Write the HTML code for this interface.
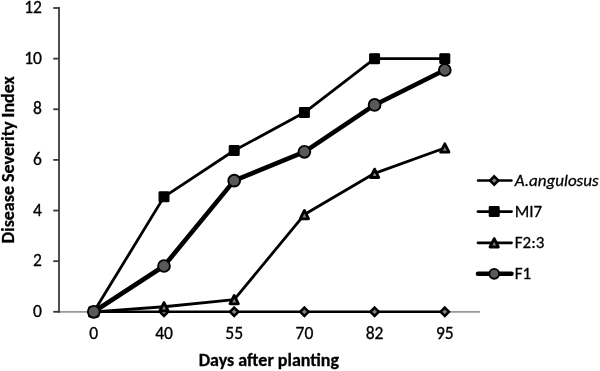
<!DOCTYPE html><html><head><meta charset="utf-8"><style>html,body{margin:0;padding:0;background:#fff;width:600px;height:371px;overflow:hidden}svg{display:block}text{font-family:Carlito, 'Liberation Sans', sans-serif;fill:#000;stroke:#000;stroke-width:0.3px}</style></head><body>
<svg width="600" height="371" viewBox="0 0 600 371">
<line x1="59" y1="311.80" x2="480" y2="311.80" stroke="#9a9a9a" stroke-width="1.8"/>
<line x1="59" y1="7.1" x2="59" y2="312.70" stroke="#3a3a3a" stroke-width="1.8"/>
<line x1="53.2" y1="311.80" x2="59" y2="311.80" stroke="#3a3a3a" stroke-width="1.8"/>
<line x1="53.2" y1="261.17" x2="59" y2="261.17" stroke="#3a3a3a" stroke-width="1.8"/>
<line x1="53.2" y1="210.53" x2="59" y2="210.53" stroke="#3a3a3a" stroke-width="1.8"/>
<line x1="53.2" y1="159.90" x2="59" y2="159.90" stroke="#3a3a3a" stroke-width="1.8"/>
<line x1="53.2" y1="109.26" x2="59" y2="109.26" stroke="#3a3a3a" stroke-width="1.8"/>
<line x1="53.2" y1="58.63" x2="59" y2="58.63" stroke="#3a3a3a" stroke-width="1.8"/>
<line x1="53.2" y1="8.00" x2="59" y2="8.00" stroke="#3a3a3a" stroke-width="1.8"/>
<text x="41.9" y="317.00" font-size="17.5" text-anchor="end">0</text>
<text x="41.9" y="266.37" font-size="17.5" text-anchor="end">2</text>
<text x="41.9" y="215.73" font-size="17.5" text-anchor="end">4</text>
<text x="41.9" y="165.10" font-size="17.5" text-anchor="end">6</text>
<text x="41.9" y="114.46" font-size="17.5" text-anchor="end">8</text>
<text x="41.9" y="63.83" font-size="17.5" text-anchor="end" textLength="17.75" lengthAdjust="spacingAndGlyphs">10</text>
<text x="41.9" y="13.20" font-size="17.5" text-anchor="end" textLength="17.75" lengthAdjust="spacingAndGlyphs">12</text>
<text x="93.80" y="339" font-size="17.5" text-anchor="middle">0</text>
<text x="164.00" y="339" font-size="17.5" text-anchor="middle" textLength="17.75" lengthAdjust="spacingAndGlyphs">40</text>
<text x="234.20" y="339" font-size="17.5" text-anchor="middle" textLength="17.75" lengthAdjust="spacingAndGlyphs">55</text>
<text x="304.40" y="339" font-size="17.5" text-anchor="middle" textLength="17.75" lengthAdjust="spacingAndGlyphs">70</text>
<text x="374.60" y="339" font-size="17.5" text-anchor="middle" textLength="17.75" lengthAdjust="spacingAndGlyphs">82</text>
<text x="444.80" y="339" font-size="17.5" text-anchor="middle" textLength="17.75" lengthAdjust="spacingAndGlyphs">95</text>
<text x="268.9" y="365.8" font-size="18" font-weight="bold" text-anchor="middle" textLength="140.3" lengthAdjust="spacingAndGlyphs">Days after planting</text>
<text transform="translate(14 159.7) rotate(-90)" x="0" y="0" font-size="18" font-weight="bold" text-anchor="middle" textLength="166.9" lengthAdjust="spacingAndGlyphs">Disease Severity Index</text>
<polyline points="93.80,311.80 164.00,311.80 234.20,311.80 304.40,311.80 374.60,311.80 444.80,311.80" fill="none" stroke="#000" stroke-width="2.5"/>
<path d="M93.80 307.60L98.00 311.80L93.80 316.00L89.60 311.80Z" fill="#808080" stroke="#000" stroke-width="2.5"/>
<path d="M164.00 307.60L168.20 311.80L164.00 316.00L159.80 311.80Z" fill="#808080" stroke="#000" stroke-width="2.5"/>
<path d="M234.20 307.60L238.40 311.80L234.20 316.00L230.00 311.80Z" fill="#808080" stroke="#000" stroke-width="2.5"/>
<path d="M304.40 307.60L308.60 311.80L304.40 316.00L300.20 311.80Z" fill="#808080" stroke="#000" stroke-width="2.5"/>
<path d="M374.60 307.60L378.80 311.80L374.60 316.00L370.40 311.80Z" fill="#808080" stroke="#000" stroke-width="2.5"/>
<path d="M444.80 307.60L449.00 311.80L444.80 316.00L440.60 311.80Z" fill="#808080" stroke="#000" stroke-width="2.5"/>
<polyline points="93.80,311.80 164.00,196.86 234.20,150.53 304.40,112.56 374.60,58.63 444.80,58.63" fill="none" stroke="#000" stroke-width="2.8" stroke-linejoin="round"/>
<rect x="88.90" y="306.90" width="9.8" height="9.8" rx="0.8" fill="#000" stroke="#000" stroke-width="1.2"/>
<rect x="159.10" y="191.96" width="9.8" height="9.8" rx="0.8" fill="#000" stroke="#000" stroke-width="1.2"/>
<rect x="229.30" y="145.63" width="9.8" height="9.8" rx="0.8" fill="#000" stroke="#000" stroke-width="1.2"/>
<rect x="299.50" y="107.66" width="9.8" height="9.8" rx="0.8" fill="#000" stroke="#000" stroke-width="1.2"/>
<rect x="369.70" y="53.73" width="9.8" height="9.8" rx="0.8" fill="#000" stroke="#000" stroke-width="1.2"/>
<rect x="439.90" y="53.73" width="9.8" height="9.8" rx="0.8" fill="#000" stroke="#000" stroke-width="1.2"/>
<polyline points="93.80,311.80 164.00,306.74 234.20,299.65 304.40,214.58 374.60,173.32 444.80,148.00" fill="none" stroke="#000" stroke-width="2.8" stroke-linejoin="round"/>
<path d="M93.80 307.60L98.00 316.00L89.60 316.00Z" fill="#808080" stroke="#000" stroke-width="2.8" stroke-linejoin="round"/>
<path d="M164.00 302.54L168.20 310.94L159.80 310.94Z" fill="#808080" stroke="#000" stroke-width="2.8" stroke-linejoin="round"/>
<path d="M234.20 295.45L238.40 303.85L230.00 303.85Z" fill="#808080" stroke="#000" stroke-width="2.8" stroke-linejoin="round"/>
<path d="M304.40 210.38L308.60 218.78L300.20 218.78Z" fill="#808080" stroke="#000" stroke-width="2.8" stroke-linejoin="round"/>
<path d="M374.60 169.12L378.80 177.52L370.40 177.52Z" fill="#808080" stroke="#000" stroke-width="2.8" stroke-linejoin="round"/>
<path d="M444.80 143.80L449.00 152.20L440.60 152.20Z" fill="#808080" stroke="#000" stroke-width="2.8" stroke-linejoin="round"/>
<polyline points="93.80,311.80 164.00,265.98 234.20,180.66 304.40,151.80 374.60,104.96 444.80,70.02" fill="none" stroke="#000" stroke-width="4.6" stroke-linejoin="round"/>
<circle cx="93.80" cy="311.80" r="5.9" fill="#595959" stroke="#000" stroke-width="1.9"/>
<circle cx="164.00" cy="265.98" r="5.9" fill="#595959" stroke="#000" stroke-width="1.9"/>
<circle cx="234.20" cy="180.66" r="5.9" fill="#595959" stroke="#000" stroke-width="1.9"/>
<circle cx="304.40" cy="151.80" r="5.9" fill="#595959" stroke="#000" stroke-width="1.9"/>
<circle cx="374.60" cy="104.96" r="5.9" fill="#595959" stroke="#000" stroke-width="1.9"/>
<circle cx="444.80" cy="70.02" r="5.9" fill="#595959" stroke="#000" stroke-width="1.9"/>
<line x1="478" y1="180.5" x2="511.5" y2="180.5" stroke="#000" stroke-width="2.4" stroke-linecap="round"/><path d="M494.20 176.30L498.40 180.50L494.20 184.70L490.00 180.50Z" fill="#808080" stroke="#000" stroke-width="2.5"/>
<line x1="478" y1="211.6" x2="511.5" y2="211.6" stroke="#000" stroke-width="2.8" stroke-linecap="round"/><rect x="489.30" y="206.70" width="9.8" height="9.8" rx="0.8" fill="#000" stroke="#000" stroke-width="1.2"/>
<line x1="478" y1="242.8" x2="511.5" y2="242.8" stroke="#000" stroke-width="2.8" stroke-linecap="round"/><path d="M494.20 238.60L498.40 247.00L490.00 247.00Z" fill="#808080" stroke="#000" stroke-width="2.8" stroke-linejoin="round"/>
<line x1="478" y1="273.8" x2="511.5" y2="273.8" stroke="#000" stroke-width="4.6" stroke-linecap="round"/><circle cx="494.20" cy="273.80" r="4.9" fill="#595959" stroke="#000" stroke-width="1.9"/>
<text x="514.8" y="185.70" font-size="17" font-style="italic" textLength="83.8" lengthAdjust="spacingAndGlyphs">A.angulosus</text>
<text x="514.8" y="216.80" font-size="17" font-style="normal" textLength="27.44" lengthAdjust="spacingAndGlyphs">MI7</text>
<text x="514.8" y="248.00" font-size="17" font-style="normal" textLength="29.59" lengthAdjust="spacingAndGlyphs">F2:3</text>
<text x="514.8" y="279.00" font-size="17" font-style="normal" textLength="16.44" lengthAdjust="spacingAndGlyphs">F1</text>
</svg></body></html>
